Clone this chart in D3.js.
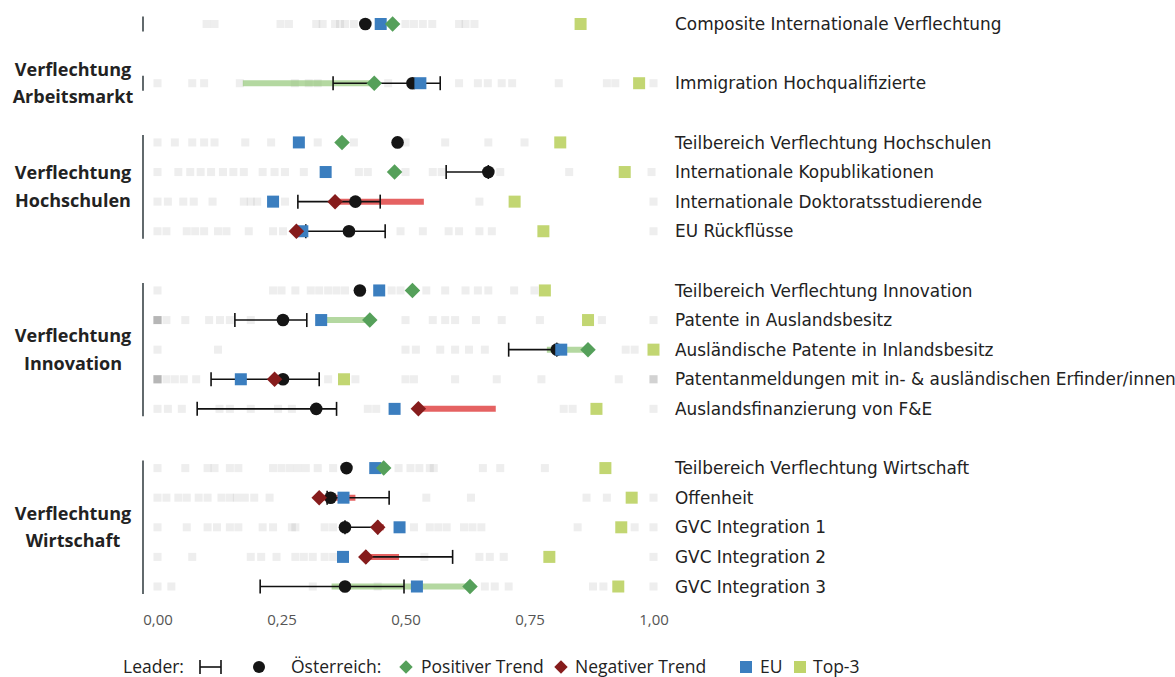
<!DOCTYPE html>
<html><head><meta charset="utf-8">
<script src="https://cdn.jsdelivr.net/npm/d3@7"></script>
<style>body{margin:0;background:#fff;} svg{display:block;}</style>
</head><body>
<svg id="c" width="1175" height="677"></svg>
<script>
// ---------------- DATA ----------------
const indicators = [
  "Composite Internationale Verflechtung",
  "Immigration Hochqualifizierte",
  "Teilbereich Verflechtung Hochschulen",
  "Internationale Kopublikationen",
  "Internationale Doktoratsstudierende",
  "EU Rückflüsse",
  "Teilbereich Verflechtung Innovation",
  "Patente in Auslandsbesitz",
  "Ausländische Patente in Inlandsbesitz",
  "Patentanmeldungen mit in- & ausländischen Erfinder/innen",
  "Auslandsfinanzierung von F&E",
  "Teilbereich Verflechtung Wirtschaft",
  "Offenheit",
  "GVC Integration 1",
  "GVC Integration 2",
  "GVC Integration 3"
];
const groupNames = [
  [],
  ["Verflechtung", "Arbeitsmarkt"],
  ["Verflechtung", "Hochschulen"],
  ["Verflechtung", "Innovation"],
  ["Verflechtung", "Wirtschaft"]
];
const rowGroup = [0, 1, 2, 2, 2, 2, 3, 3, 3, 3, 3, 4, 4, 4, 4, 4];

// black dot
const dotValue   = [0.419, 0.514, 0.484, 0.667, 0.399, 0.386, 0.408, 0.253, 0.805, 0.253, 0.320, 0.381, 0.349, 0.378, null, 0.378];
// leader range
const leaderLow  = [null, 0.354, null, 0.582, 0.283, 0.299, null, 0.156, 0.708, 0.108, 0.080, null, 0.342, 0.378, 0.420, 0.207];
const leaderHigh = [null, 0.570, null, 0.667, 0.449, 0.459, null, 0.301, 0.805, 0.326, 0.361, null, 0.467, 0.444, 0.595, 0.497];
// Österreich: current value (diamond), earlier value (trend line start), direction
const austriaNow  = [0.474, 0.437, 0.372, 0.478, 0.358, 0.280, 0.514, 0.428, 0.868, 0.236, 0.526, 0.456, 0.326, 0.444, 0.420, 0.630];
const austriaPast = [null, 0.172, null, null, 0.537, null, null, 0.330, 0.785, null, 0.682, null, 0.399, 0.456, 0.487, 0.351];
const trendDir    = ["pos","pos","pos","pos","neg","neg","pos","pos","pos","neg","neg","pos","neg","neg","neg","pos"];
// EU and Top-3
const euValue   = [0.450, 0.530, 0.285, 0.339, 0.233, 0.292, 0.447, 0.330, 0.814, 0.168, 0.478, 0.439, 0.375, 0.488, 0.374, 0.523];
const top3Value = [0.853, 0.971, 0.812, 0.942, 0.720, 0.778, 0.781, 0.868, 1.000, 0.376, 0.885, 0.903, 0.956, 0.935, 0.790, 0.929];
// other countries (grey squares)
const otherCountries = [
  [0.099,0.115,0.248,0.265,0.320,0.333,0.358,0.368,0.378,0.396,0.500,0.517,0.535,0.554,0.608,0.621,0.639],
  [0,0.070,0.094,0.166,0.277,0.305,0.323,0.465,0.608,0.646,0.666,0.694,0.715,0.809,0.906,0.923,1],
  [0,0.035,0.070,0.094,0.115,0.177,0.229,0.323,0.396,0.500,0.580,0.667,0.740],
  [0,0.042,0.066,0.087,0.108,0.132,0.153,0.174,0.212,0.236,0.257,0.295,0.406,0.424,0.500,0.555,0.573,0.691,0.830,0.996],
  [0,0.021,0.052,0.073,0.111,0.174,0.188,0.201,0.257,0.649,1],
  [0,0.018,0.059,0.076,0.094,0.122,0.139,0.184,0.233,0.253,0.490,0.535,0.587,0.608,0.649,0.674,1],
  [0,0.233,0.250,0.278,0.309,0.326,0.344,0.361,0.378,0.472,0.490,0.542,0.580,0.621,0.646,0.667,0.719,0.760],
  [0,0,0,0,0,0,0.018,0.056,0.104,0.126,0.146,0.188,0.500,0.555,0.580,0.600,0.642,0.694,0.771,0.896,1],
  [0,0.122,0.500,0.521,0.570,0.600,0.628,0.660,0.944,0.962,1],
  [0,0,0,0,0,0,0.018,0.035,0.053,0.078,0.344,0.399,0.500,0.517,0.600,0.684,0.774,0.930,1,1,1],
  [0,0.021,0.049,0.125,0.146,0.188,0.243,0.271,0.424,0.441,0.819,0.837,1],
  [0,0.056,0.101,0.115,0.146,0.163,0.233,0.250,0.267,0.283,0.299,0.323,0.354,0.486,0.510,0.528,0.549,0.557,0.656,0.691,0.781],
  [0,0.018,0.042,0.059,0.083,0.101,0.129,0.146,0.160,0.176,0.195,0.226,0.542,0.632,0.865,0.906,1],
  [0,0.059,0.101,0.120,0.146,0.163,0.212,0.233,0.271,0.278,0.337,0.354,0.517,0.549,0.566,0.583,0.618,0.635,0.653,0.847,0.962,1],
  [0,0.070,0.188,0.209,0.240,0.278,0.295,0.313,0.337,0.354,0.538,0.649,0.670,0.698,1],
  [0,0.028,0.313,0.444,0.660,0.680,0.708,0.878,0.899,1]
];
const tickValues = [0, 0.25, 0.5, 0.75, 1];
const legendLabels = ["Leader:", "Österreich:", "Positiver Trend", "Negativer Trend", "EU", "Top-3"];

// ---------------- STYLE ----------------
const FONT = "'Open Sans', sans-serif";
const LABELFONT = "'DejaVu Sans', sans-serif";
const C = {
  dot: "#151515", eu: "#3b7ebf", top3: "#bfd46a",
  pos: "#55a05a", neg: "#861c1c",
  posLine: "rgba(140,195,110,0.65)", negLine: "rgba(224,70,70,0.85)",
  grey: "#8a8a8a", text: "#222", axis: "#555", groupLine: "#3a4448"
};

const svg = d3.select("#c");
const x = d3.scaleLinear().domain([0, 1]).range([157.5, 653.5]);

// slot positions: one empty slot between groups
const slots = [];
{ let s = 0, prev = null;
  rowGroup.forEach(g => { if (prev !== null && g !== prev) s += 1; slots.push(s); s += 1; prev = g; }); }
const y = d3.scaleLinear().domain([0, d3.max(slots)]).range([24, 586.5]);
const rowY = i => y(slots[i]);

const rows = indicators.map((name, i) => ({
  i, name, g: rowGroup[i], dot: dotValue[i], lo: leaderLow[i], hi: leaderHigh[i],
  now: austriaNow[i], past: austriaPast[i], dir: trendDir[i], eu: euValue[i], top3: top3Value[i],
  others: otherCountries[i]
}));

// group separators and labels
const groupIdx = d3.groups(rows, r => r.g);
groupIdx.forEach(([g, rs]) => {
  const y0 = rowY(rs[0].i), y1 = rowY(rs[rs.length - 1].i);
  svg.append("line").attr("x1", 143).attr("x2", 143)
    .attr("y1", y0 - 7.5).attr("y2", y1 + 7.5)
    .attr("stroke", C.groupLine).attr("stroke-width", 1.6);
  const lines = groupNames[g];
  if (lines.length) {
    const cy = (y0 + y1) / 2;
    const t = svg.append("text").attr("x", 73).attr("text-anchor", "middle")
      .attr("font-family", FONT).attr("font-weight", 700).attr("font-size", 18)
      .attr("fill", C.text);
    lines.forEach((l, k) => {
      t.append("tspan").attr("x", 73).attr("y", cy + (k - (lines.length - 1) / 2) * 27.5)
        .attr("dy", "0.35em").text(l);
    });
  }
});

const rowG = svg.selectAll("g.row").data(rows).join("g").attr("class", "row")
  .attr("transform", d => `translate(0,${rowY(d.i)})`);

// grey squares
rowG.selectAll("rect.other").data(d => d.others).join("rect").attr("class", "other")
  .attr("x", v => x(v) - 4).attr("y", -4).attr("width", 8).attr("height", 8)
  .attr("fill", C.grey).attr("fill-opacity", 0.15);

// trend lines
rowG.filter(d => d.past != null).append("line")
  .attr("x1", d => x(d.past)).attr("x2", d => x(d.now)).attr("y1", 0).attr("y2", 0)
  .attr("stroke", d => d.dir === "pos" ? C.posLine : C.negLine).attr("stroke-width", 6);

// leader range
const lr = rowG.filter(d => d.lo != null);
lr.append("line").attr("x1", d => x(d.lo)).attr("x2", d => x(d.hi)).attr("y1", 0).attr("y2", 0)
  .attr("stroke", "#111").attr("stroke-width", 1.6);
lr.append("line").attr("x1", d => x(d.lo)).attr("x2", d => x(d.lo)).attr("y1", -7).attr("y2", 7)
  .attr("stroke", "#111").attr("stroke-width", 1.6);
lr.append("line").attr("x1", d => x(d.hi)).attr("x2", d => x(d.hi)).attr("y1", -7).attr("y2", 7)
  .attr("stroke", "#111").attr("stroke-width", 1.6);

// dots
rowG.filter(d => d.dot != null).append("circle")
  .attr("cx", d => x(d.dot)).attr("cy", 0).attr("r", 6.3).attr("fill", C.dot);

// EU
rowG.append("rect").attr("x", d => x(d.eu) - 6).attr("y", -6).attr("width", 12).attr("height", 12)
  .attr("fill", C.eu);

// Austria diamond
const diamond = d3.symbol().type(d3.symbolSquare).size(120);
rowG.append("path").attr("d", diamond)
  .attr("transform", d => `translate(${x(d.now)},0) rotate(45)`)
  .attr("fill", d => d.dir === "pos" ? C.pos : C.neg);

// Top-3
rowG.append("rect").attr("x", d => x(d.top3) - 6).attr("y", -6).attr("width", 12).attr("height", 12)
  .attr("fill", C.top3).attr("fill-opacity", 0.95);

// row labels
rowG.append("text").attr("x", 675).attr("y", 0).attr("dy", "0.36em")
  .attr("font-family", LABELFONT).attr("font-size", 16.9).attr("fill", C.text)
  .text(d => d.name);

// x axis
const fmt = d3.formatLocale({decimal: ",", thousands: ".", grouping: [3], currency: ["", "€"]}).format(".2f");
const ax = svg.append("g").attr("transform", "translate(0,611)")
  .call(d3.axisBottom(x).tickValues(tickValues).tickSize(0).tickPadding(3).tickFormat(fmt));
ax.select(".domain").remove();
ax.selectAll("text").attr("font-family", FONT).attr("font-size", 15).attr("fill", C.axis);

// legend
const ly = 667;
const lg = svg.append("g").attr("font-family", FONT).attr("font-size", 17.5).attr("fill", C.text);
const ltext = (xx, s) => lg.append("text").attr("x", xx).attr("y", ly).attr("dy", "0.35em").text(s);
ltext(123, legendLabels[0]);
lg.append("line").attr("x1", 200).attr("x2", 221).attr("y1", ly).attr("y2", ly).attr("stroke", "#111").attr("stroke-width", 1.6);
lg.append("line").attr("x1", 200).attr("x2", 200).attr("y1", ly - 7).attr("y2", ly + 7).attr("stroke", "#111").attr("stroke-width", 1.6);
lg.append("line").attr("x1", 221).attr("x2", 221).attr("y1", ly - 7).attr("y2", ly + 7).attr("stroke", "#111").attr("stroke-width", 1.6);
lg.append("circle").attr("cx", 259).attr("cy", ly).attr("r", 6).attr("fill", C.dot);
ltext(291, legendLabels[1]);
lg.append("path").attr("d", d3.symbol().type(d3.symbolSquare).size(90)).attr("transform", `translate(406,${ly}) rotate(45)`).attr("fill", C.pos);
ltext(421, legendLabels[2]);
lg.append("path").attr("d", d3.symbol().type(d3.symbolSquare).size(90)).attr("transform", `translate(561,${ly}) rotate(45)`).attr("fill", C.neg);
ltext(575, legendLabels[3]);
lg.append("rect").attr("x", 740).attr("y", ly - 6).attr("width", 12).attr("height", 12).attr("fill", C.eu);
ltext(760, legendLabels[4]);
lg.append("rect").attr("x", 794).attr("y", ly - 6).attr("width", 12).attr("height", 12).attr("fill", C.top3);
ltext(813, legendLabels[5]);
</script>
</body></html>
